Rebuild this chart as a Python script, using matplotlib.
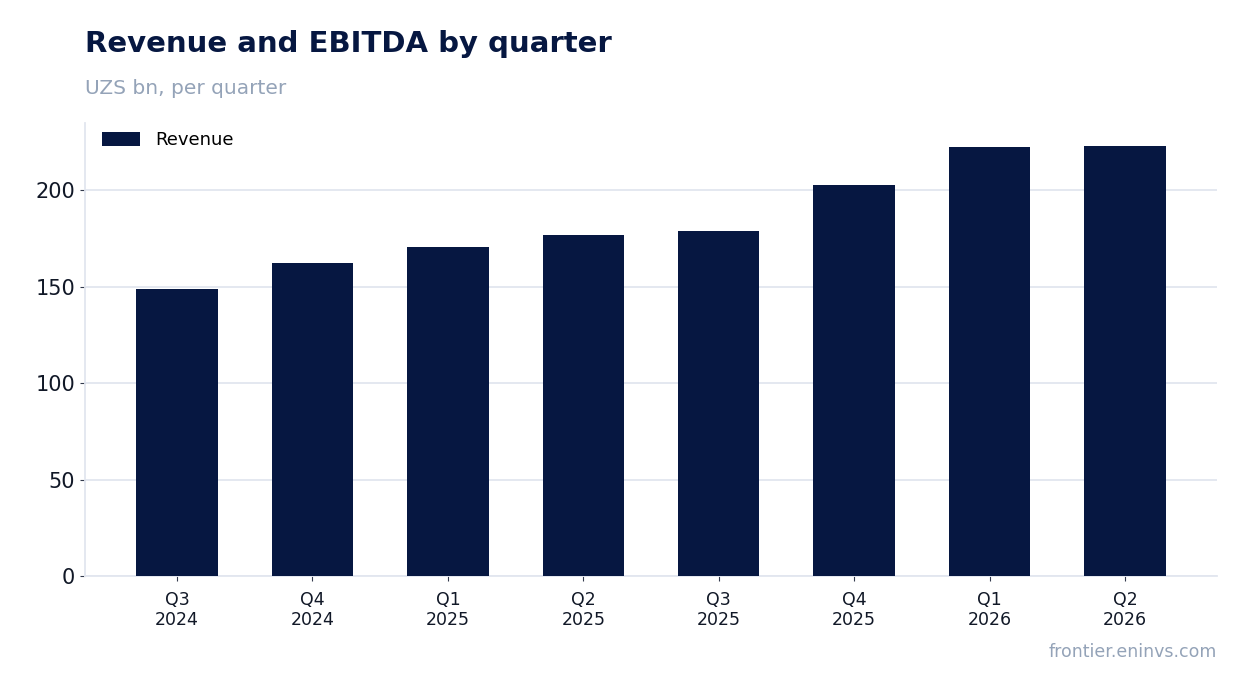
import matplotlib.pyplot as plt
import numpy as np

# datos
quarters = ['Q3\n2024', 'Q4\n2024', 'Q1\n2025', 'Q2\n2025',
            'Q3\n2025', 'Q4\n2025', 'Q1\n2026', 'Q2\n2026']
revenue = [148.7, 162.2, 170.5, 176.7, 178.8, 202.6, 222.8, 223.3]

navy = '#061741'
grid_c = '#e2e6ef'
gray_txt = '#94a3b8'

fig = plt.figure(figsize=(12.47, 6.93), dpi=100)
ax = fig.add_axes([85/1247, 1 - 576/693, (1217-85)/1247, (576-123)/693])

x = np.arange(len(quarters))
ax.bar(x, revenue, width=0.6, color=navy, label='Revenue', zorder=3)

ax.set_xlim(-0.68, len(quarters) - 1 + 0.68)
ax.set_ylim(0, 235)
ax.set_yticks([0, 50, 100, 150, 200])
ax.set_xticks(x)
ax.set_xticklabels(quarters, fontsize=12.5)
ax.tick_params(axis='y', labelsize=15, colors='#333a4d', labelcolor='#111827')
ax.tick_params(axis='x', colors='#333a4d', labelcolor='#111827', pad=7)
ax.grid(axis='y', color=grid_c, linewidth=1.3, zorder=0)
ax.set_axisbelow(True)

for s in ['top', 'right']:
    ax.spines[s].set_visible(False)
for s in ['left', 'bottom']:
    ax.spines[s].set_color(grid_c)
    ax.spines[s].set_linewidth(1.3)

ax.legend(loc='upper left', bbox_to_anchor=(3/1132, 1 + 6/453), frameon=False,
          fontsize=13, handlelength=2.1, handleheight=0.8, borderaxespad=0.4)

fig.text(85/1247, 1 - 44/693, 'Revenue and EBITDA by quarter', fontsize=21,
         fontweight='bold', color=navy, va='center', ha='left')
fig.text(85/1247, 1 - 88/693, 'UZS bn, per quarter', fontsize=14.5,
         color=gray_txt, va='center', ha='left')
fig.text(1217/1247, 1 - 652/693, 'frontier.eninvs.com', fontsize=12.5,
         color=gray_txt, va='center', ha='right')

fig.savefig('out.png', dpi=100)
